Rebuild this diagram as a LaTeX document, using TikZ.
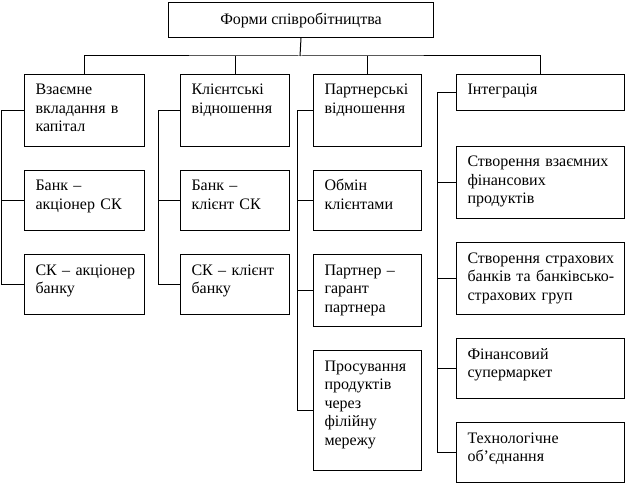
\documentclass[tikz,border=0pt]{standalone}
\usepackage{fontspec}
\setmainfont{Liberation Serif}
\usetikzlibrary{calc}

\begin{document}
\begin{tikzpicture}[x=1pt,y=-1pt,line width=1pt,
  cell/.style={draw,anchor=north west,inner sep=0pt},
  celltext/.style={anchor=base west,align=left,text width=170pt,inner sep=0pt,
    font=\fontsize{16}{18.5}\selectfont,xshift=11pt,yshift=-21pt}]
  \useasboundingbox (0,0) rectangle (628,486);
  \node[cell,minimum width=265,minimum height=35,font=\fontsize{16}{18.5}\selectfont] (root) at (168,2) {Форми співробітництва};
  \foreach \n/\x/\y/\w/\h/\t in {
    b11/24/74/120/72/{Взаємне\\вкладання в\\капітал},
    b12/24/170/120/60/{Банк --\\акціонер СК},
    b13/24/254/120/60/{СК -- акціонер\\банку},
    b21/180/74/109/72/{Клієнтські\\відношення},
    b22/180/170/109/60/{Банк --\\клієнт СК},
    b23/180/254/109/60/{СК -- клієнт\\банку},
    b31/313/74/108/72/{Партнерські\\відношення},
    b32/313/170/108/60/{Обмін\\клієнтами},
    b33/313/254/108/72/{Партнер --\\гарант\\партнера},
    b34/313/350/108/120/{Просування\\продуктів\\через\\філійну\\мережу},
    b41/456/74/168/36/{Інтеграція},
    b42/456/146/168/72/{Створення взаємних\\фінансових\\продуктів},
    b43/456/242/168/72/{Створення страхових\\банків та банківсько-\\страхових груп},
    b44/456/338/168/60/{Фінансовий\\супермаркет},
    b45/456/422/168/60/{Технологічне\\об’єднання}}
    {\node[cell,minimum width=\w,minimum height=\h] (\n) at (\x,\y) {};
     \node[celltext] (t\n) at (\n.north west) {\t};}
  % top level
  \coordinate (bus) at (300,56);
  \draw (root.south) -- (bus);
  \draw (b11.north) |- (bus) -| (b41.north);
  \draw (b21.north) -- (b21.north |- bus);
  \draw (b31.north) -- (b31.north |- bus);
  % columns
  \coordinate (t1) at (1,0); \coordinate (t2) at (158,0);
  \coordinate (t3) at (297,0); \coordinate (t4) at (437,0);
  \foreach \c/\m in {1/3,2/3,3/4,4/5}{
    \draw (b\c1.west) -- (b\c1.west -| t\c) |- (b\c\m.west);
    \foreach \r in {2,...,\m} \draw (b\c\r.west) -- (b\c\r.west -| t\c);}
\end{tikzpicture}
\end{document}
